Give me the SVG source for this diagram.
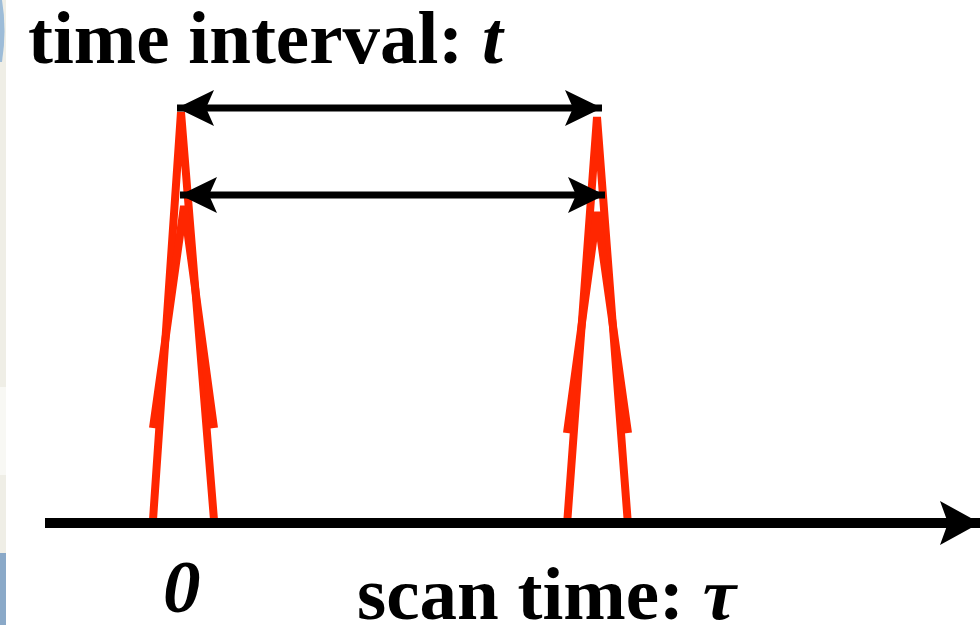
<svg xmlns="http://www.w3.org/2000/svg" width="980" height="625" viewBox="0 0 980 625">
  <defs>
    <style>
      .peak { fill: none; stroke: #ff2600; stroke-width: 8; stroke-linecap: butt; stroke-linejoin: bevel; }
      .span { fill: none; stroke: #000; stroke-width: 7; }
      .axis { fill: none; stroke: #000; stroke-width: 10; }
      .label { font-family: "Liberation Serif", "Times New Roman", serif; font-weight: bold; font-size: 75px; fill: #000; }
      .ital { font-style: italic; }
    </style>
    <marker id="headEnd" viewBox="0 0 40 36" refX="37" refY="18" markerUnits="userSpaceOnUse" markerWidth="40" markerHeight="36" orient="auto">
      <path d="M0,0 L37,18 L0,36 L8,18 Z" fill="#000"/>
    </marker>
    <marker id="headStart" viewBox="0 0 40 36" refX="37" refY="18" markerUnits="userSpaceOnUse" markerWidth="40" markerHeight="36" orient="auto-start-reverse">
      <path d="M0,0 L37,18 L0,36 L8,18 Z" fill="#000"/>
    </marker>
    <marker id="axisHead" viewBox="0 0 42 44" refX="40" refY="22" markerUnits="userSpaceOnUse" markerWidth="42" markerHeight="44" orient="auto">
      <path d="M0,0 L40,22 L0,44 L8,22 Z" fill="#000"/>
    </marker>
  </defs>

  <rect width="980" height="625" fill="#ffffff"/>

  <!-- slide edge strip on the left -->
  <g id="edge-strip">
    <rect x="0" y="0" width="6" height="625" fill="#efeee6"/>
    <rect x="0" y="387" width="6" height="88" fill="#f8f8f4"/>
    <path d="M0,0 H2 Q7,30 2,62 H0 Z" fill="#9dbcd8"/>
    <rect x="0" y="553" width="6" height="72" fill="#8aa9c8"/>
  </g>

  <!-- pulse pair at scan time 0 -->
  <g id="peak-left">
    <polyline class="peak" points="153,520 181,112 214,520"/>
    <polyline class="peak" points="153,428 184,206 214,428"/>
  </g>

  <!-- pulse pair after interval t -->
  <g id="peak-right">
    <polyline class="peak" points="567,525 597,117 628,525"/>
    <polyline class="peak" points="567,433 597,212 628,433"/>
  </g>

  <g id="connectors">
    <line class="span" x1="177" y1="108" x2="602" y2="108" marker-start="url(#headStart)" marker-end="url(#headEnd)"/>
    <line class="span" x1="180" y1="195" x2="605" y2="195" marker-start="url(#headStart)" marker-end="url(#headEnd)"/>
    <line class="axis" x1="45" y1="523" x2="980" y2="523" marker-end="url(#axisHead)"/>
  </g>

  <g id="title">
    <text class="label" x="28" y="63">time interval: <tspan class="ital">t</tspan></text>
  </g>

  <g id="axis-labels">
    <text class="label ital" x="163" y="612">0</text>
    <text class="label" x="357" y="619">scan time: <tspan class="ital">τ</tspan></text>
  </g>
</svg>
